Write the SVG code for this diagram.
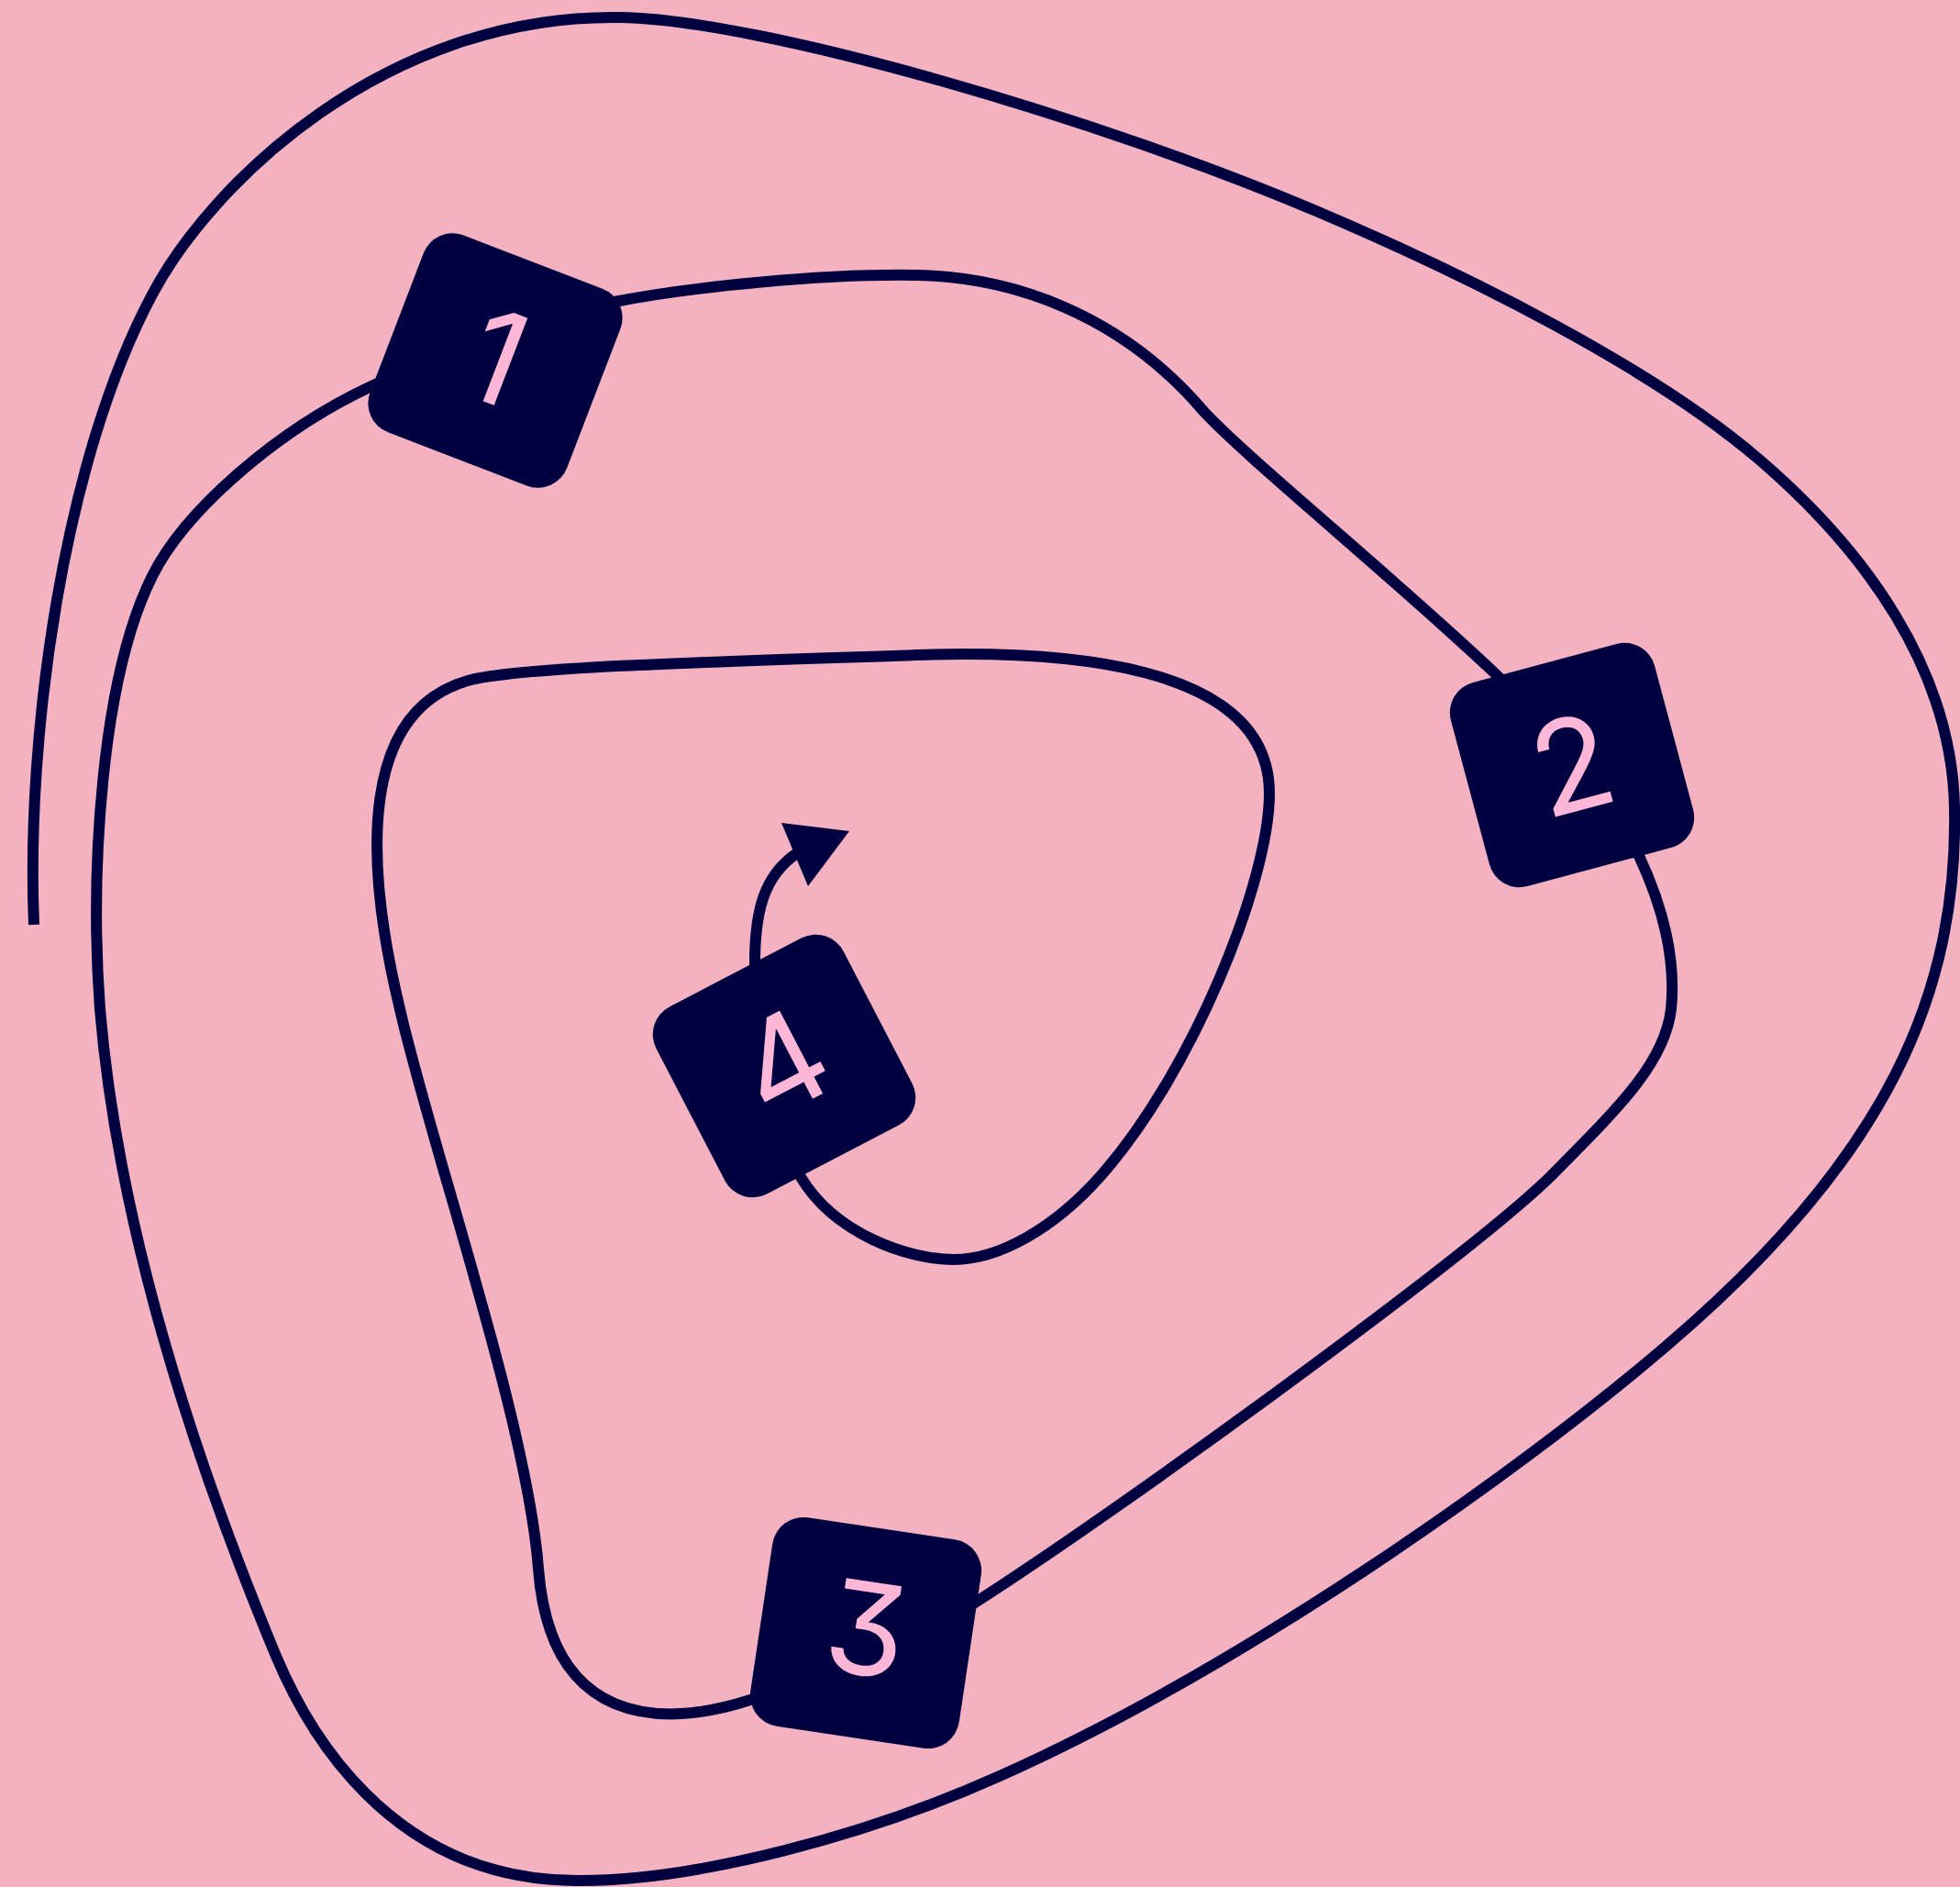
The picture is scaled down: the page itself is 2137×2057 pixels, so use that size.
<svg xmlns="http://www.w3.org/2000/svg" width="2137" height="2057" viewBox="0 0 2137 2057">
  <style>
    .wire { fill: none; stroke: #000040; stroke-width: 12; stroke-linecap: butt; stroke-linejoin: round; }
    .head { fill: #000040; }
    .box { fill: #000040; }
    .lbl { fill: #FDB6D6; font-family: "Inter", "Liberation Sans", sans-serif; font-size: 140px; font-weight: 400; text-anchor: middle; font-feature-settings: "cv09" 1; }
  </style>
  <rect x="0" y="0" width="2137" height="2057" fill="#F4B2C0"/>
  <g id="connectors">
    <path class="wire" d="M37,1008 C28,800 70,500 166,321 C230,200 420,15 676,19 C830,21 1200,130 1435,230 C1600,300 1800,400 1917,500 C2034,600 2128,730 2131,880 C2135,1080 2060,1260 1817,1467 C1650,1610 1350,1820 1090,1936 C945,2001 760,2050 633,2050 C420,2052 330,1875 300,1803 C220,1610 130,1350 109,1100 C98,950 110,740 166,628 C201,558 300,470 405,421 C480,386 600,343 670,329 C750,313 900,298 1000,300 C1100,302 1220,340 1312,448 C1360,500 1520,630 1631,735 C1700,800 1760,870 1787,933 C1810,982 1828,1040 1822,1100 C1815,1160 1762,1210 1690,1283 C1600,1370 1230,1640 1063,1747 C980,1800 900,1830 818,1853 C720,1885 600,1880 587,1710 C575,1550 470,1250 436,1100 C395,930 395,775 510,742 C560,728 750,722 1000,714 C1150,709 1384,720 1384,865 C1384,960 1300,1170 1199,1283 C1150,1338 1090,1373 1040,1373 C990,1373 910,1345 873,1283 C840,1230 820,1120 823,1050 C823,995 832,955 869,930"/>
    <polygon class="head" points="852,897 926,906 881,966"/>
  </g>
  <g id="node1" transform="translate(540,393) rotate(21)">
    <rect class="box" x="-115" y="-115" width="230" height="230" rx="34"/>
    <text class="lbl" x="0" y="46">1</text>
  </g>
  <g id="node2" transform="translate(1714,834) rotate(-15)">
    <rect class="box" x="-115" y="-115" width="230" height="230" rx="34"/>
    <text class="lbl" x="0" y="50">2</text>
  </g>
  <g id="node3" transform="translate(944,1780) rotate(8.5)">
    <rect class="box" x="-115" y="-115" width="230" height="230" rx="34"/>
    <text class="lbl" x="0" y="46">3</text>
  </g>
  <g id="node4" transform="translate(855,1162) rotate(-27.5)">
    <rect class="box" x="-115" y="-115" width="230" height="230" rx="34"/>
    <text class="lbl" x="0" y="46">4</text>
  </g>
</svg>
